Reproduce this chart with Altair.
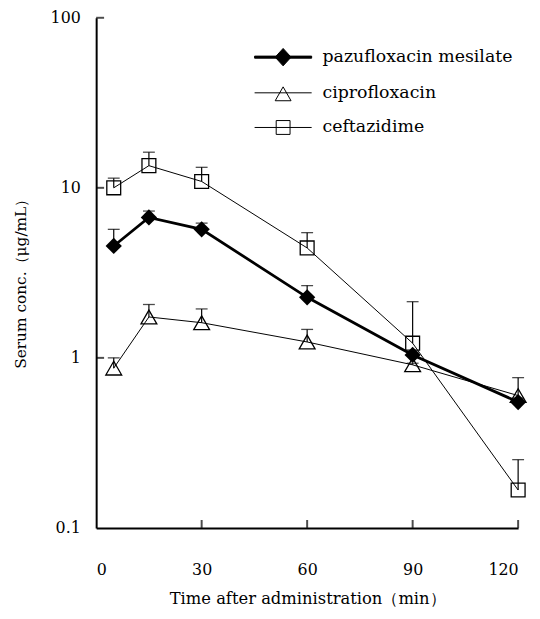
import altair as alt
import pandas as pd

# ---- data ----
times = [5, 15, 30, 60, 90, 120]
series_names = ["pazufloxacin mesilate", "ciprofloxacin", "ceftazidime"]
pazu_mean = [4.55, 6.7, 5.7, 2.27, 1.04, 0.55]
pazu_upper = [5.7, 7.3, 6.2, 2.66, 1.08, 0.58]
cipro_mean = [0.87, 1.74, 1.61, 1.24, 0.91, 0.60]
cipro_upper = [1.0, 2.06, 1.94, 1.47, 0.93, 0.765]
ceft_mean = [10.0, 13.5, 10.9, 4.43, 1.22, 0.167]
ceft_upper = [11.4, 16.2, 13.2, 5.45, 2.14, 0.252]
x_ticks = [0, 30, 60, 90, 120]
y_ticks = [0.1, 1, 10, 100]

means = [pazu_mean, cipro_mean, ceft_mean]
uppers = [pazu_upper, cipro_upper, ceft_upper]
rows = []
for name, m, u in zip(series_names, means, uppers):
    for t, v, up in zip(times, m, u):
        rows.append({"series": name, "time": t, "value": v, "upper": up})
df = pd.DataFrame(rows)

FONT = "DejaVu Serif"
W, H = 426, 515

x_enc = alt.X("time:Q", scale=alt.Scale(domain=[0, 120], nice=False),
              axis=alt.Axis(values=x_ticks, format="d", title="Time after administration（min）",
                            labelPadding=34, titlePadding=13, labelFontSize=16,
                            titleFontSize=16.5))
y_scale = alt.Scale(type="log", domain=[0.1, 100], nice=False)
y_enc = alt.Y("value:Q", scale=y_scale,
              axis=alt.Axis(values=y_ticks, format="~g", title="Serum conc.（μg/mL）",
                            labelPadding=16, titlePadding=22, labelFontSize=16,
                            titleFontSize=15.5, titleY=H / 2 + 7))

# per-series style (code-side, not data)
styles = {
    "pazufloxacin mesilate": dict(shape="diamond", filled=True, size=270, lw=2.8),
    "ciprofloxacin": dict(shape="triangle-up", filled=False, size=256, lw=1.0),
    "ceftazidime": dict(shape="square", filled=False, size=196, lw=1.0),
}

base = alt.Chart(df)
layers = []
for name in series_names:
    st = styles[name]
    sub = base.transform_filter(alt.datum.series == name)
    layers.append(sub.mark_line(color="black", strokeWidth=st["lw"]).encode(x=x_enc, y=y_enc))
for name in series_names:
    sub = base.transform_filter(alt.datum.series == name)
    layers.append(sub.mark_rule(color="black", strokeWidth=1.2).encode(
        x="time:Q", y=alt.Y("value:Q", scale=y_scale), y2="upper:Q"))
    layers.append(sub.mark_tick(color="black", orient="horizontal", size=12, thickness=1.3).encode(
        x="time:Q", y=alt.Y("upper:Q", scale=y_scale)))
for name in series_names:
    st = styles[name]
    sub = base.transform_filter(alt.datum.series == name)
    layers.append(sub.mark_point(shape=st["shape"], filled=st["filled"], size=st["size"],
                                 color="black", strokeWidth=1.3, opacity=1).encode(
        x="time:Q", y=alt.Y("value:Q", scale=y_scale)))

# inward axis ticks
xt = pd.DataFrame({"t": x_ticks[1:]})
yt = pd.DataFrame({"v": y_ticks[1:]})
layers.append(alt.Chart(xt).mark_tick(color="black", orient="vertical", size=8, thickness=2, yOffset=-4).encode(
    x="t:Q", y=alt.datum(y_ticks[0], scale=y_scale)))
layers.append(alt.Chart(yt).mark_tick(color="black", orient="horizontal", size=8, thickness=2, xOffset=4).encode(
    x=alt.datum(x_ticks[0]), y=alt.Y("v:Q", scale=y_scale)))

# legend (line + marker symbols as custom paths); entries come from the scale domain
leg_paths = [
    "M-3.6,-0.13L3.6,-0.13L3.6,0.13L-3.6,0.13Z M-1,0L0,-1.1L1,0L0,1.1Z",
    "M-3.6,0L3.6,0 M0,-0.75L1,1L-1,1Z",
    "M-3.6,0L3.6,0 M-0.875,-0.875L0.875,-0.875L0.875,0.875L-0.875,0.875Z",
]
leg = alt.Legend(title=None, orient="none", legendX=180, legendY=31, padding=0,
                 symbolSize=256, symbolStrokeColor="black", symbolStrokeWidth=1,
                 symbolOpacity=1,
                 labelFont=FONT, labelFontSize=17.5, labelColor="black", labelOffset=31,
                 rowPadding=15, labelLimit=400)
layers.append(base.transform_filter("false").mark_point(size=256, color="black", stroke="black", strokeWidth=1).encode(
    x="time:Q", y=alt.Y("value:Q", scale=y_scale),
    shape=alt.Shape("series:N", scale=alt.Scale(domain=series_names, range=leg_paths), legend=leg),
    fill=alt.Fill("series:N", scale=alt.Scale(domain=series_names, range=["black", "transparent", "transparent"]), legend=leg),
    stroke=alt.Stroke("series:N", scale=alt.Scale(domain=series_names, range=["black", "black", "black"]), legend=leg),
))

chart = alt.layer(*layers).properties(
    width=W, height=H,
    autosize=alt.AutoSizeParams(type="none"),
    padding={"left": 89, "top": 7, "right": 14, "bottom": 80},
).configure_view(stroke=None).configure_axis(
    grid=False, ticks=False, domainColor="black", domainWidth=2,
    labelFont=FONT, labelColor="black", titleFont=FONT, titleColor="black",
    titleFontWeight="normal",
)

chart.save("out.html", embed_options={"renderer": "svg", "actions": False})
